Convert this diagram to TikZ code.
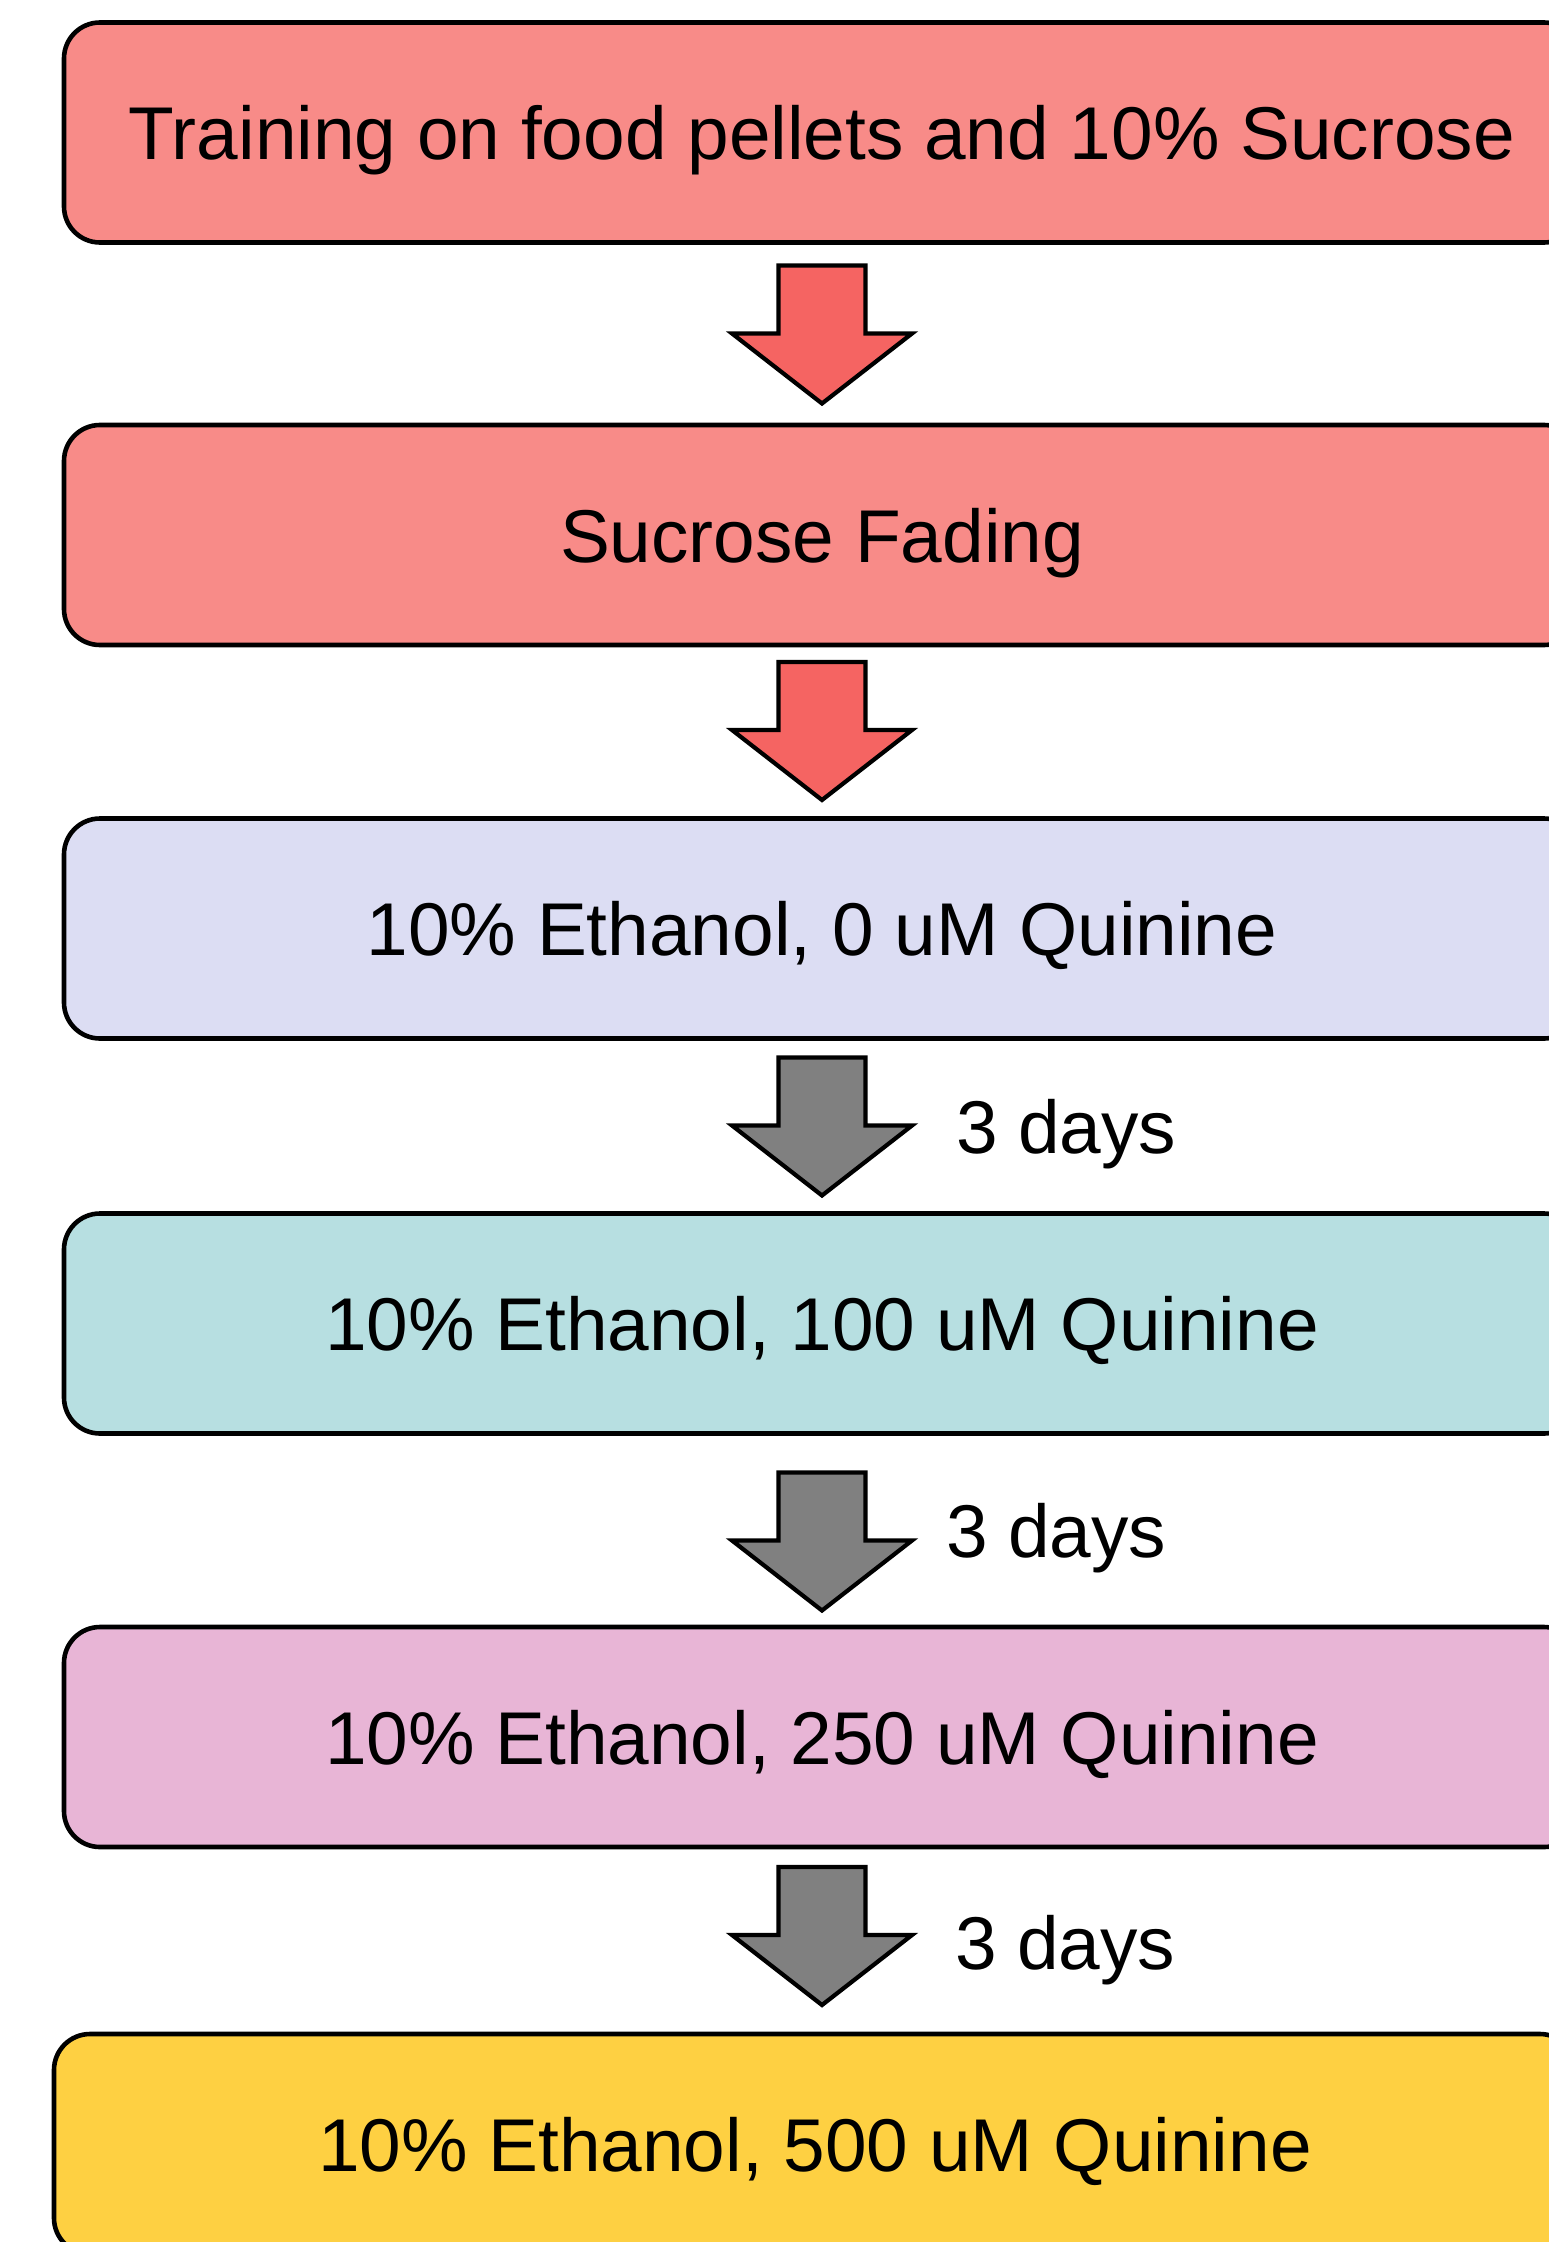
\documentclass[tikz,border=0pt]{standalone}
\usepackage{fontspec}
\setmainfont{Liberation Sans}
\usetikzlibrary{calc}
\definecolor{salmonfill}{HTML}{F88B88}
\definecolor{arrowred}{HTML}{F56462}
\definecolor{lavfill}{HTML}{DCDDF3}
\definecolor{tealfill}{HTML}{B7DFE1}
\definecolor{pinkfill}{HTML}{E8B5D6}
\definecolor{yellowfill}{HTML}{FED042}
\definecolor{arrowgray}{HTML}{808080}
\begin{document}
\begin{tikzpicture}[x=1pt,y=1pt,
  stage/.style={draw=black, line width=4.6pt, rounded corners=36pt,
    minimum width=1516pt, minimum height=220pt, inner sep=0pt, outer sep=0pt,
    text height=54pt, text depth=0pt, font=\fontsize{74.8}{90}\selectfont},
  daylabel/.style={anchor=west, inner sep=0pt, outer sep=0pt,
    text height=54pt, text depth=0pt, font=\fontsize{74.8}{90}\selectfont},
  blockarr/.pic={\draw[pic actions, draw=black, line width=4.2pt, line join=miter]
    (-43.5,0) -- (43.5,0) -- (43.5,-68) -- (90,-68) -- (0,-138) -- (-90,-68) -- (-43.5,-68) -- cycle;}
]
\useasboundingbox (0,0) rectangle (1548,-2242);

\node[stage, fill=salmonfill] (b1) at (822,-132.5) {Training on food pellets and 10\% Sucrose};
\node[stage, fill=salmonfill] (b2) at (822,-535) {Sucrose Fading};
\node[stage, fill=lavfill] (b3) at (822,-928.5) {10\% Ethanol, 0 uM Quinine};
\node[stage, fill=tealfill] (b4) at (822,-1323.5) {10\% Ethanol, 100 uM Quinine};
\node[stage, fill=pinkfill] (b5) at (822,-1737) {10\% Ethanol, 250 uM Quinine};
\node[stage, fill=yellowfill, minimum width=1522pt] (b6) at (815,-2144) {10\% Ethanol, 500 uM Quinine};

\pic (a1) [fill=arrowred] at ($(b1.south)+(0,-23)$) {blockarr};
\pic (a2) [fill=arrowred] at ($(b2.south)+(0,-17)$) {blockarr};
\pic (a3) [fill=arrowgray] at ($(b3.south)+(0,-19)$) {blockarr};
\pic (a4) [fill=arrowgray] at ($(b4.south)+(0,-39)$) {blockarr};
\pic (a5) [fill=arrowgray] at ($(b5.south)+(0,-20)$) {blockarr};

\node[daylabel] (d1) at (956,-1126) {3 days};
\node[daylabel] (d2) at (946,-1530) {3 days};
\node[daylabel] (d3) at (955,-1942) {3 days};
\end{tikzpicture}
\end{document}
